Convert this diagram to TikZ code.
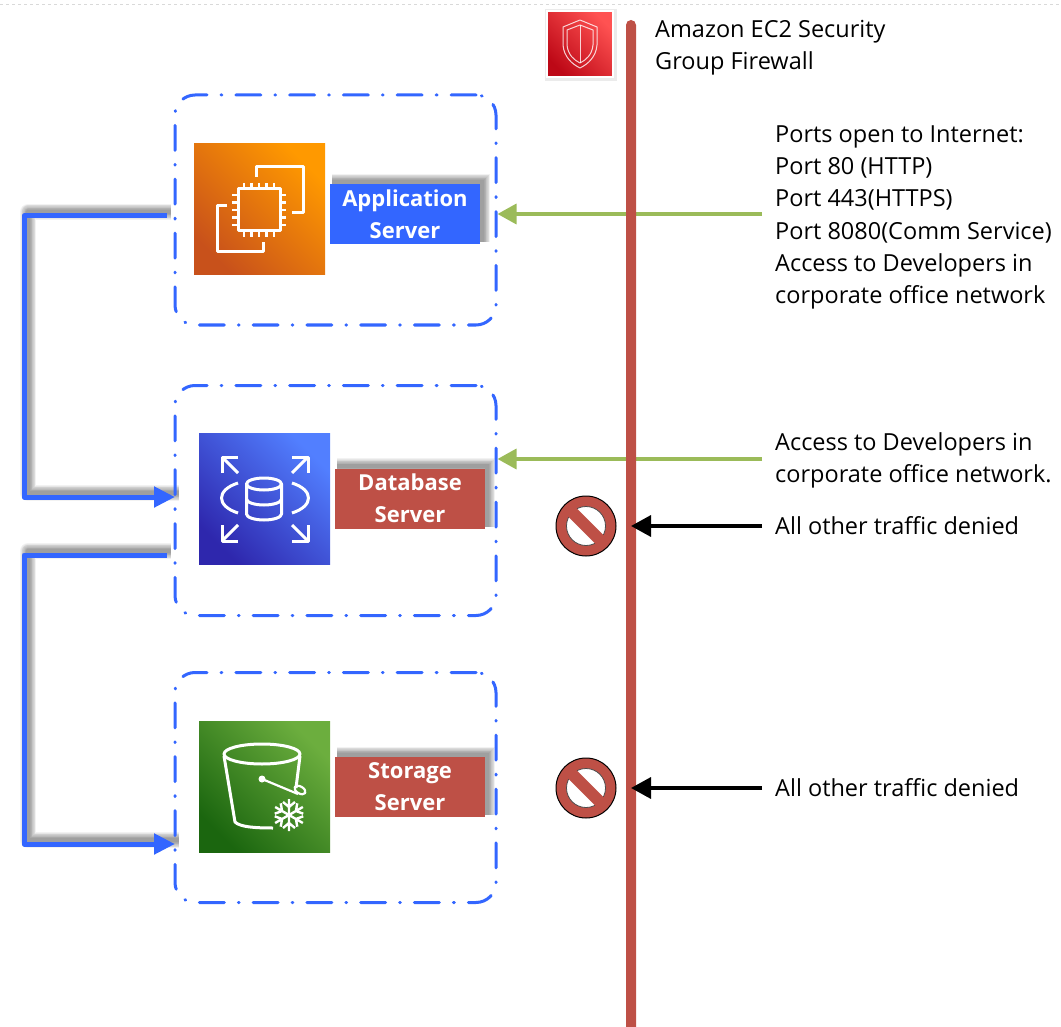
\documentclass[tikz,border=0pt]{standalone}
\usepackage{fontspec}
\setmainfont{Open Sans}
\usetikzlibrary{arrows.meta,backgrounds}
\definecolor{linkblue}{HTML}{3366FF}
\definecolor{wallred}{HTML}{BE5046}
\definecolor{portgreen}{HTML}{9BBB59}
\tikzset{
  softbox/.style={draw=black,opacity=.05,line join=miter,transform canvas={xshift=2pt,yshift=2pt}},
  softline/.style={draw=black,opacity=.05,line join=round,transform canvas={xshift=4pt,yshift=4pt}},
  groupbox/.style={draw=linkblue,line width=3pt,line cap=round,rounded corners=20pt,minimum width=321pt,minimum height=230pt,dash pattern=on 25pt off 14pt on 0.8pt off 14pt},
  tagbox/.style={text=white,font=\bfseries\fontsize{22}{32}\selectfont,align=center,minimum width=150pt,minimum height=60pt,inner sep=0pt},
  iconbox/.style={minimum size=131pt,inner sep=0pt},
  iconline/.style={draw=white,line width=3pt,line join=round},
  notetext/.style={font=\fontsize{23.5}{32.2}\selectfont,align=left,inner xsep=13pt,inner ysep=0pt,anchor=west},
  bluelink/.style={draw=linkblue,line width=5pt,line join=round,-{Triangle[length=21pt,width=20pt]}},
  greenlink/.style={draw=portgreen,line width=3.5pt,-{Triangle[length=19pt,width=20pt]}},
  blacklink/.style={draw=black,line width=3.5pt,-{Triangle[length=20pt,width=21pt]}},
  denysign/.style={circle,draw=black,line width=1pt,fill=wallred,minimum size=60pt,inner sep=0pt},
}
\begin{document}
\begin{tikzpicture}[x=1pt,y=-1pt]
\useasboundingbox (0,0) rectangle (1061,1027);
\draw[gray!30,dashed,line width=0.8pt](0,4)--(1061,4);
% server groups
\node[groupbox](appgroup) at (335.5,210){};
\node[groupbox](dbgroup) at (335.5,500.5){};
\node[groupbox](s3group) at (335.5,787.5){};
% icons
\node[iconbox,bottom color={rgb,255:red,200;green,81;blue,27},top color={rgb,255:red,255;green,153;blue,0},shading angle=-45](ec2icon) at (259.5,209.5){};
\node[iconbox,bottom color={rgb,255:red,46;green,39;blue,173},top color={rgb,255:red,82;green,127;blue,255},shading angle=-45](dbicon) at (264.5,498.5){};
\node[iconbox,bottom color={rgb,255:red,27;green,102;blue,15},top color={rgb,255:red,108;green,174;blue,62},shading angle=-45](s3icon) at (264.5,787){};
% instance icon
\draw[iconline](256,177)--(256,167)--(303,167)--(303,213)--(292,213);
\draw[iconline](227,206)--(217,206)--(217,252)--(263,252)--(263,242);
\draw[iconline](238,189)rectangle(280,231);
\foreach \p in {244,251.5,259,266.5,274}{
  \draw[iconline,line width=2.2pt](\p,183)--(\p,189);
  \draw[iconline,line width=2.2pt](\p,231)--(\p,237);
  \draw[iconline,line width=2.2pt](232,\p-49)--(238,\p-49);
  \draw[iconline,line width=2.2pt](280,\p-49)--(286,\p-49);
}
% database icon
\foreach \sx/\sy in {-1/-1,1/-1,-1/1,1/1}{
  \draw[iconline](265+\sx*43,499+\sy*26)--(265+\sx*43,499+\sy*42)--(265+\sx*27,499+\sy*42);
  \draw[iconline](265+\sx*43,499+\sy*42)--(265+\sx*27,499+\sy*26);
}
\draw[iconline](238,483)..controls(216,490)and(216,506)..(238,513);
\draw[iconline](292,483)..controls(314,490)and(314,506)..(292,513);
\draw[iconline](264,484)ellipse(17.5 and 6);
\draw[iconline](246.5,484)--(246.5,514)arc(180:0:17.5 and 6)--(281.5,484);
\draw[iconline](246.5,499)arc(180:0:17.5 and 6);
% bucket icon
\draw[iconline](262,754)ellipse(38 and 10);
\draw[iconline](224,756)--(235,822)..controls(240,827)and(255,828)..(273,828);
\draw[iconline](300,756)--(296,788);
\fill[white](262,779)circle(3.5);
\draw[iconline,line width=2.2pt](262,779)--(298,794);
\draw[iconline,line width=2.2pt,rotate around={-30:(300,790)}](300,790)ellipse(6 and 3.5);
\foreach \a in {0,60,...,300}{
  \draw[iconline,line width=2.4pt,rotate around={\a:(289,815)}](289,815)--(289,799)(283,802)--(289,807)--(295,802);
}
% firewall
\node[notetext](portsnote) at (762,217.5){Ports open to Internet:\\Port 80 (HTTP)\\Port 443(HTTPS)\\Port 8080(Comm Service)\\Access to Developers in\\corporate office network};
\node[notetext](devnote) at (762,460){Access to Developers in\\corporate office network.};
\node[notetext](denyonenote) at (762,526){All other traffic denied};
\node[notetext](denytwonote) at (762,788){All other traffic denied};
\draw[greenlink](portsnote.west)++(0,-3.5)coordinate(portstart)--(portstart-|appgroup.east);
\draw[greenlink](devnote.west)++(0,-1)coordinate(devstart)--(devstart-|dbgroup.east);
\node[fill=wallred,minimum width=10pt,minimum height=1020pt,inner sep=0pt,rounded corners=5pt](firewall) at (631,530){};
\draw[blacklink](denyonenote.west)--(denyonenote.west-|firewall.center);
\draw[blacklink](denytwonote.west)--(denytwonote.west-|firewall.center);
% shield
\fill[black,opacity=.08](545,9)rectangle(617,81);
\node[draw=white,line width=2pt,bottom color={rgb,255:red,189;green,8;blue,22},top color={rgb,255:red,255;green,82;blue,82},shading angle=-45,minimum size=66pt,inner sep=0pt](shieldicon) at (580,44){};
\draw[white,opacity=.8,line width=1pt,line join=round](580,20)--(563,27)--(563,45)..controls(564,57)and(572,64)..(580,68)..controls(588,64)and(596,57)..(597,45)--(597,27)--cycle;
\draw[white,opacity=.8,line width=1pt,line join=round](580,25)--(567,30)--(567,45)..controls(568,55)and(574,60)..(580,63)..controls(586,60)and(592,55)..(593,45)--(593,30)--cycle;
\draw[white,opacity=.8,line width=1pt](shieldicon.center|-0,25)--(shieldicon.center|-0,63);
\node[anchor=west,inner sep=0pt,font=\fontsize{23.5}{32}\selectfont,align=left](wallnote) at (655,47.5){Amazon EC2 Security\\Group Firewall};
% server tags
\node[tagbox,fill=linkblue](apptag) at (405,214){Application\\Server};
\node[tagbox,fill=wallred](dbtag) at (410,498.5){Database\\Server};
\node[tagbox,fill=wallred](s3tag) at (410,787){Storage\\Server};
% deny signs
\foreach \n/\y in {denyone/526,denytwo/788}{
  \node[denysign](\n) at (586,\y){};
  \draw[black!70,fill=white,line width=0.8pt](586,\y)circle(19.5);
  \fill[wallred,rotate around={-45:(586,\y)}](562,\y-6)rectangle(610,\y+6);
}
% server links
\coordinate(appout) at (167,216);
\coordinate(dbin) at (175,497);
\coordinate(dbout) at (167,555);
\coordinate(s3in) at (175,844);
\coordinate(railone) at (24,300);
\draw[bluelink](appout)--(appout-|railone)--(railone|-dbin)--(dbin);
\draw[bluelink](dbout)--(dbout-|railone)--(railone|-s3in)--(s3in);
% shadows
\begin{pgfonlayer}{background}
\foreach \w in {4,5.5,...,16}{
  \foreach \n in {apptag,dbtag,s3tag}{
    \draw[softbox,line width=\w pt](\n.north west)--(\n.north east)--(\n.south east);
  }
  \draw[softline,line width=\w pt](appout)--(appout-|railone)--(railone|-dbin)--(dbin);
  \draw[softline,line width=\w pt](dbout)--(dbout-|railone)--(railone|-s3in)--(s3in);
}
\end{pgfonlayer}
\end{tikzpicture}
\end{document}
